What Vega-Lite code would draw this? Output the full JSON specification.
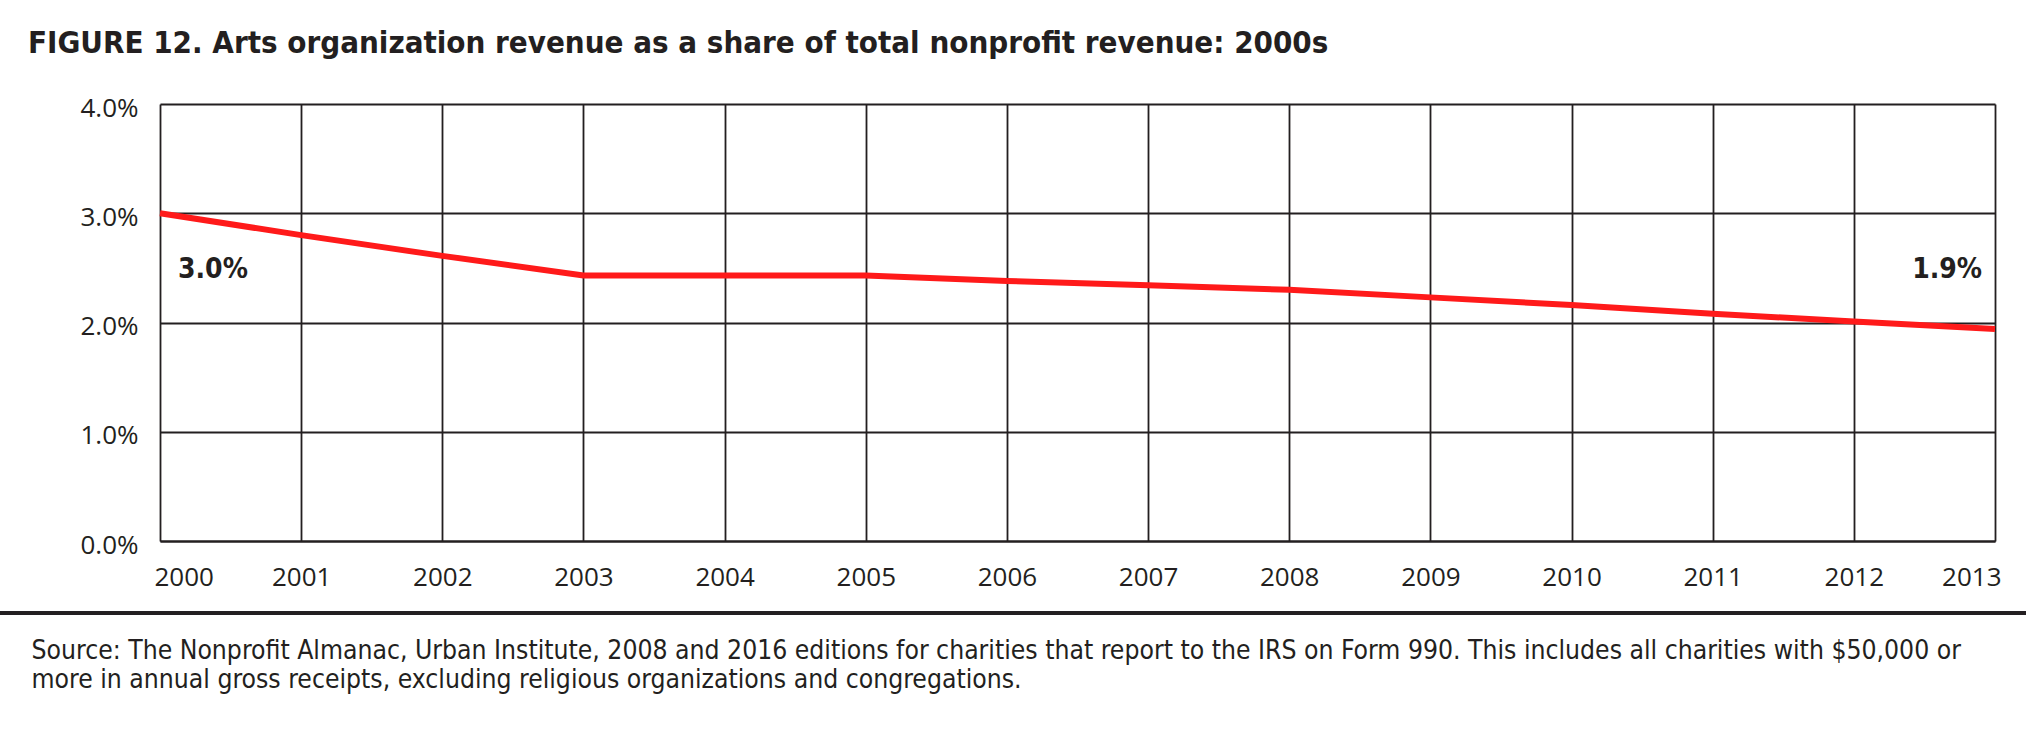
{
  "$schema": "https://vega.github.io/schema/vega-lite/v6.json",
  "width": 1835,
  "height": 437,
  "autosize": "none",
  "padding": {"left": 160, "top": 104, "right": 31, "bottom": 189},
  "background": "white",
  "config": {"view": {"stroke": null}, "font": "Open Sans"},
  "title": {
    "text": "FIGURE 12. Arts organization revenue as a share of total nonprofit revenue: 2000s",
    "anchor": "start",
    "frame": "group",
    "dx": -132,
    "dy": 27,
    "baseline": "alphabetic",
    "offset": 38,
    "font": "'DejaVu Sans Condensed', 'Liberation Sans'",
    "fontSize": 31,
    "fontWeight": "bold",
    "color": "#231f20"
  },
  "data": {
    "values": [
      {"year": 2000, "value": 0.0300, "label": "3.0%"},
      {"year": 2001, "value": 0.0280, "label": ""},
      {"year": 2002, "value": 0.0261, "label": ""},
      {"year": 2003, "value": 0.0243, "label": ""},
      {"year": 2004, "value": 0.0243, "label": ""},
      {"year": 2005, "value": 0.0243, "label": ""},
      {"year": 2006, "value": 0.0238, "label": ""},
      {"year": 2007, "value": 0.0234, "label": ""},
      {"year": 2008, "value": 0.0230, "label": ""},
      {"year": 2009, "value": 0.0223, "label": ""},
      {"year": 2010, "value": 0.0216, "label": ""},
      {"year": 2011, "value": 0.0208, "label": ""},
      {"year": 2012, "value": 0.0201, "label": ""},
      {"year": 2013, "value": 0.0194, "label": "1.9%"}
    ]
  },
  "layer": [
    {
      "mark": {"type": "line", "color": "#ff1a1a", "strokeWidth": 6, "strokeCap": "butt"},
      "encoding": {
        "x": {
          "field": "year",
          "type": "quantitative",
          "scale": {"domain": [2000, 2013], "nice": false, "zero": false},
          "axis": {
            "values": [2000, 2001, 2002, 2003, 2004, 2005, 2006, 2007, 2008, 2009, 2010, 2011, 2012, 2013],
            "format": "d",
            "grid": true,
            "gridColor": "#231f20",
            "gridWidth": 1.8,
            "gridOpacity": 1,
            "domain": true,
            "domainColor": "#231f20",
            "domainWidth": 1.8,
            "ticks": false,
            "labelFont": "Open Sans",
            "labelFontSize": 26,
            "labelColor": "#231f20",
            "labelPadding": 23,
            "labelFlush": true,
            "labelFlushOffset": 6,
            "title": [
              "Source: The Nonprofit Almanac, Urban Institute, 2008 and 2016 editions for charities that report to the IRS on Form 990. This includes all charities with $50,000 or",
              "more in annual gross receipts, excluding religious organizations and congregations."
            ],
            "titleX": -129,
            "titleY": 117,
            "titleAlign": "left",
            "titleAnchor": "start",
            "titleBaseline": "alphabetic",
            "titleFont": "'DejaVu Sans Condensed', 'Liberation Sans'",
            "titleFontSize": 26.3,
            "titleFontWeight": "normal",
            "titleLineHeight": 29,
            "titleColor": "#231f20"
          }
        },
        "y": {
          "field": "value",
          "type": "quantitative",
          "scale": {"domain": [0, 0.04], "nice": false},
          "axis": {
            "values": [0, 0.01, 0.02, 0.03, 0.04],
            "format": ".1%",
            "grid": true,
            "gridColor": "#231f20",
            "gridWidth": 1.8,
            "gridOpacity": 1,
            "domain": false,
            "ticks": false,
            "labelFont": "Open Sans",
            "labelFontSize": 26,
            "labelColor": "#231f20",
            "labelPadding": 22,
            "labelBaseline": "middle",
            "labelOffset": 4,
            "title": null
          }
        }
      }
    },
    {
      "transform": [{"filter": "datum.year == 2000"}],
      "mark": {"type": "text", "align": "left", "baseline": "alphabetic", "dx": 18, "dy": 65, "font": "'DejaVu Sans Condensed', 'Liberation Sans'", "fontSize": 28, "fontWeight": "bold", "color": "#231f20"},
      "encoding": {
        "x": {"field": "year", "type": "quantitative"},
        "y": {"field": "value", "type": "quantitative"},
        "text": {"field": "label"}
      }
    },
    {
      "transform": [{"filter": "datum.year == 2013"}],
      "mark": {"type": "text", "align": "right", "baseline": "alphabetic", "dx": -13, "dy": -51, "font": "'DejaVu Sans Condensed', 'Liberation Sans'", "fontSize": 28, "fontWeight": "bold", "color": "#231f20"},
      "encoding": {
        "x": {"field": "year", "type": "quantitative"},
        "y": {"field": "value", "type": "quantitative"},
        "text": {"field": "label"}
      }
    },
    {
      "mark": {"type": "rule", "color": "#231f20", "strokeWidth": 2.5},
      "encoding": {
        "x": {"datum": 1998.866, "type": "quantitative"},
        "x2": {"datum": 2013.22},
        "y": {"datum": -0.0066, "type": "quantitative"}
      }
    }
  ]
}
